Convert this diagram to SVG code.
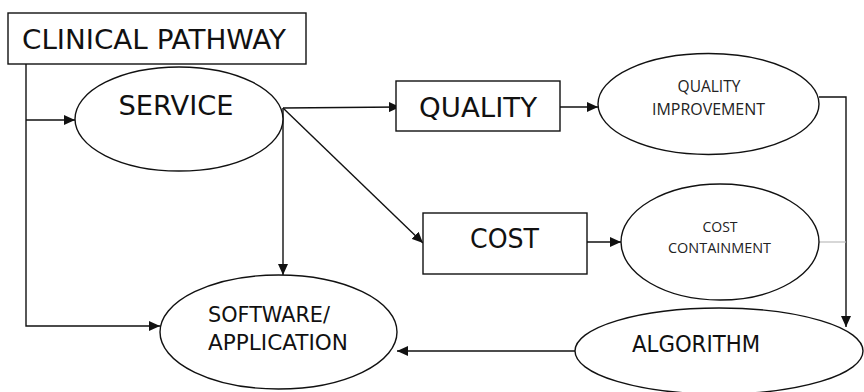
<svg xmlns="http://www.w3.org/2000/svg" width="864" height="392" viewBox="0 0 864 392">
  <style>
    .shape { fill: #fff; stroke: #111; stroke-width: 1.4; }
    .edge { fill: none; stroke: #111; stroke-width: 1.4; }
    .faint { fill: none; stroke: #bdbdbd; stroke-width: 1.2; }
    .lbl { font-family: "DejaVu Sans", Verdana, sans-serif; fill: #111; text-anchor: middle; }
    .small { font-family: "Open Sans", "Noto Sans", sans-serif; fill: #222; text-anchor: middle; }
  </style>
  <defs>
    <marker id="arrow" markerUnits="userSpaceOnUse" markerWidth="12" markerHeight="10" refX="11" refY="5" orient="auto">
      <path d="M0 0 L11 5 L0 10 Z" fill="#111"/>
    </marker>
  </defs>
  <rect width="864" height="392" fill="#fff"/>

  <g id="connectors">
    <path class="edge" d="M26 64 V326 H160" marker-end="url(#arrow)"/>
    <path class="edge" d="M26 120 H75" marker-end="url(#arrow)"/>
    <path class="edge" d="M283 108 L400 107" marker-end="url(#arrow)"/>
    <path class="edge" d="M283 108 L423 243" marker-end="url(#arrow)"/>
    <path class="edge" d="M283 108 V275" marker-end="url(#arrow)"/>
    <path class="edge" d="M560 107 H598" marker-end="url(#arrow)"/>
    <path class="edge" d="M587 242 H621" marker-end="url(#arrow)"/>
    <path class="edge" d="M819 97 H846 V327" marker-end="url(#arrow)"/>
    <path class="faint" d="M819 242 H846"/>
    <path class="edge" d="M575 351 H397" marker-end="url(#arrow)"/>
  </g>

  <g id="clinical-pathway">
    <rect class="shape" x="8" y="13" width="298" height="51"/>
    <text class="lbl" x="154" y="49" font-size="27" textLength="264" lengthAdjust="spacingAndGlyphs">CLINICAL PATHWAY</text>
  </g>

  <g id="service">
    <ellipse class="shape" cx="179" cy="119" rx="104" ry="52"/>
    <text class="lbl" x="176" y="115" font-size="27" textLength="115" lengthAdjust="spacingAndGlyphs">SERVICE</text>
  </g>

  <g id="quality">
    <rect class="shape" x="396" y="81" width="164" height="50"/>
    <text class="lbl" x="478" y="117" font-size="27" textLength="118" lengthAdjust="spacingAndGlyphs">QUALITY</text>
  </g>

  <g id="quality-improvement">
    <ellipse class="shape" cx="708.5" cy="104" rx="110.5" ry="50.5"/>
    <text class="small" x="709" y="92" font-size="15.5">QUALITY</text>
    <text class="small" x="708.5" y="115" font-size="16" textLength="113" lengthAdjust="spacingAndGlyphs">IMPROVEMENT</text>
  </g>

  <g id="cost">
    <rect class="shape" x="423" y="213" width="164" height="61"/>
    <text class="lbl" x="504.5" y="248" font-size="27" textLength="69" lengthAdjust="spacingAndGlyphs">COST</text>
  </g>

  <g id="cost-containment">
    <ellipse class="shape" cx="720" cy="242" rx="99" ry="58"/>
    <text class="small" x="720" y="232" font-size="14">COST</text>
    <text class="small" x="719.5" y="253" font-size="14.5" textLength="103" lengthAdjust="spacingAndGlyphs">CONTAINMENT</text>
  </g>

  <g id="algorithm">
    <ellipse class="shape" cx="719" cy="351" rx="144" ry="43"/>
    <text class="lbl" x="696" y="352" font-size="23.5" textLength="128" lengthAdjust="spacingAndGlyphs">ALGORITHM</text>
  </g>

  <g id="software-application">
    <ellipse class="shape" cx="278.5" cy="332" rx="118.5" ry="57"/>
    <text class="lbl" x="269" y="322" font-size="22" textLength="122" lengthAdjust="spacingAndGlyphs">SOFTWARE/</text>
    <text class="lbl" x="278" y="350" font-size="22" textLength="140" lengthAdjust="spacingAndGlyphs">APPLICATION</text>
  </g>
</svg>
